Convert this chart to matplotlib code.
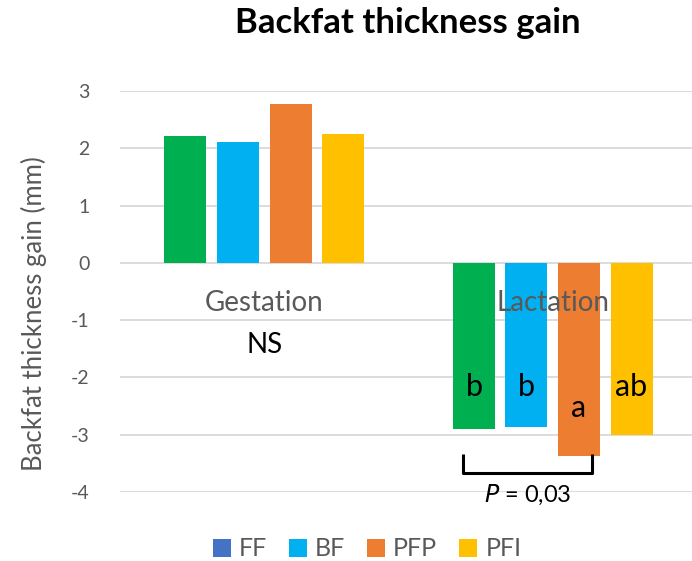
import matplotlib
matplotlib.use("Agg")
import matplotlib.pyplot as plt
from matplotlib.patches import Patch
import numpy as np

plt.rcParams['font.family'] = ['Lato', 'DejaVu Sans']

categories = ["Gestation", "Lactation"]
series = ["FF", "BF", "PFP", "PFI"]
FF = [2.22, -2.90]
BF = [2.11, -2.86]
PFP = [2.77, -3.38]
PFI = [2.25, -3.01]
values = [FF, BF, PFP, PFI]
bar_colors = ["#00B050", "#00B0F0", "#ED7D31", "#FFC000"]
legend_colors = ["#4472C4", "#00B0F0", "#ED7D31", "#FFC000"]
lact_letters = ["b", "b", "a", "ab"]
y_ticks = [-4, -3, -2, -1, 0, 1, 2, 3]

W, H = 692, 561
fig = plt.figure(figsize=(W/100, H/100), dpi=100)
left_px, right_px = 120, 692
ax = fig.add_axes([left_px/W, (H-492)/H, (right_px-left_px)/W, (492-91)/H])
ax.set_ylim(-4, 3)
xmax = (right_px - left_px) / 288.5 - 0.5
ax.set_xlim(-0.5, xmax)

x = np.arange(len(categories))
step = 0.182
bw = 0.1456
for i, (vals, c) in enumerate(zip(values, bar_colors)):
    ax.bar(x + (i - 1.5) * step, vals, width=bw, color=c, zorder=2)

ax.set_yticks(y_ticks)
ax.set_yticklabels([str(t) for t in y_ticks], fontsize=14, color="#595959")
ax.grid(axis='y', color="#D9D9D9", linewidth=1.3, zorder=0)
ax.set_xticks([])
ax.tick_params(axis='y', length=0, pad=22)
for s in ax.spines.values():
    s.set_visible(False)

ax.set_ylabel("Backfat thickness gain (mm)", fontsize=18.5, color="#595959", va='center')
ax.yaxis.set_label_coords((34 - left_px) / (right_px - left_px), (492 - 314) / (492 - 91))

# category labels
for xi, cat in zip(x, categories):
    ax.text(xi, -0.70, cat, ha='center', va='center', fontsize=20, color="#595959", zorder=5)

ax.text(0, -1.43, "NS", ha='center', va='center', fontsize=20, color='black', zorder=5)
for i, lt in enumerate(lact_letters):
    yy = -2.53 if lt == "a" else -2.16
    ax.text(1 + (i - 1.5) * step, yy, lt, ha='center', va='center', fontsize=22, color='black', zorder=5)

# bracket
xl, xr = 0.689, 1.136
ax.plot([xl, xl, xr, xr], [-3.33, -3.665, -3.665, -3.33], color='black', lw=2.2,
        solid_joinstyle='round', solid_capstyle='butt', clip_on=False, zorder=5)
ax.text((xl + xr) / 2, -4.05, r"$\it{P}$ = 0,03", ha='center', va='center', fontsize=17,
        color='black', clip_on=False, zorder=5)

fig.text(408/W, 1 - 33/H, "Backfat thickness gain", ha='center', va='baseline',
         fontsize=25, fontweight='bold', color='black')

handles = [Patch(facecolor=c, edgecolor='none') for c in legend_colors]
fig.legend(handles, series, loc='center', bbox_to_anchor=(367/W, 1 - 549/H), ncol=4,
           frameon=False, fontsize=18, handlelength=0.72, handleheight=0.72,
           handletextpad=0.32, columnspacing=0.88, labelcolor="#595959")

fig.savefig("out.png", dpi=100)
